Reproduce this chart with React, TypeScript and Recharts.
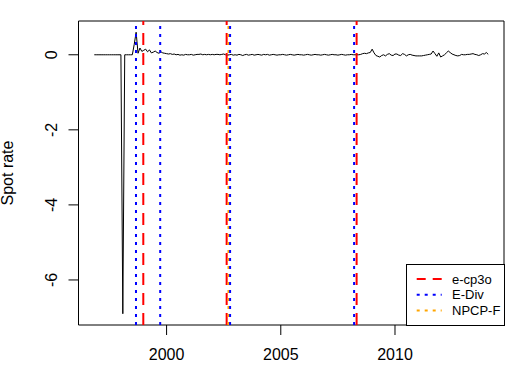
import React from 'react';
import { LineChart, Line, XAxis, YAxis, ReferenceLine, ReferenceArea, Legend, Label } from 'recharts';

// Monthly spot-rate series, Nov 1996 .. Feb 2014
const startYear = 1996;
const startMonth = 11;
const rates1996 = [0, 0];
const rates1997 = [0, 0, 0, 0, 0, 0, 0, 0, 0, 0, 0, 0];
const rates1998 = [0, -6.9, 0, 0, 0, 0, 0, 0.28, 0.6, 0.04, 0.18, 0.09];
const rates1999 = [0.12, 0.15, 0.08, 0.13, 0.05, 0.07, 0.1, 0.06, 0.04, 0.08, 0.05, 0.04];
const rates2000 = [0.03, 0.02, 0.03, 0.01, 0.02, 0.0, 0.01, -0.01, 0.0, -0.01, 0.01, 0.0];
const rates2001 = [0.0, 0.01, -0.01, 0.0, 0.01, 0.01, 0.02, 0.0, 0.01, 0.0, 0.01, 0.0];
const rates2002 = [0.01, 0.0, 0.01, 0.01, 0.0, 0.01, 0.02, 0.0, -0.01, 0.0, 0.01, -0.01];
const rates2003 = [0.0, -0.01, 0.01, 0.0, -0.02, 0.0, 0.01, -0.01, 0.0, 0.01, -0.01, 0.0];
const rates2004 = [0.01, 0.0, -0.01, 0.01, 0.0, 0.01, -0.01, 0.0, 0.01, 0.0, -0.01, 0.0];
const rates2005 = [0.0, 0.01, 0.0, -0.01, 0.0, 0.01, 0.0, -0.01, 0.0, 0.01, 0.0, 0.0];
const rates2006 = [-0.01, 0.0, 0.01, 0.0, -0.01, 0.0, 0.01, 0.0, 0.0, -0.01, 0.0, 0.01];
const rates2007 = [0.0, -0.01, 0.0, 0.01, 0.0, 0.0, -0.01, 0.0, 0.01, 0.0, -0.01, 0.0];
const rates2008 = [0.0, 0.01, 0.0, 0.0, 0.0, 0.0, 0.01, 0.03, 0.04, 0.03, 0.05, 0.06];
const rates2009 = [0.15, 0.05, -0.02, -0.04, -0.06, -0.02, 0.0, -0.03, 0.01, 0.03, -0.01, -0.02];
const rates2010 = [0.02, 0.02, -0.01, -0.02, 0.03, 0.01, -0.03, 0.0, 0.01, -0.01, -0.02, -0.03];
const rates2011 = [-0.03, -0.03, -0.03, -0.02, -0.01, 0.0, 0.01, 0.02, 0.1, 0.03, -0.04, 0.05];
const rates2012 = [-0.06, -0.03, 0.0, 0.05, 0.1, 0.06, 0.02, 0.0, -0.02, -0.03, -0.02, 0.01];
const rates2013 = [0.0, 0.0, 0.01, 0.01, 0.02, 0.03, 0.01, 0.0, -0.02, 0.0, 0.03, 0.02];
const rates2014 = [0.06, 0.01];

// Change point estimates (decimal years)
const ecp3oDates = [1998.98, 2002.63, 2008.32];
const eDivDates = [1998.66, 1999.72, 2002.78, 2008.21];
const npcpfDates = [2002.71];

// Axis ticks & domains
const xTicks = [2000, 2005, 2010];
const yTicks = [-6, -4, -2, 0];
const xDomain: [number, number] = [1996.143, 2014.773];
const yDomain: [number, number] = [-7.2, 0.9];

// Legend
const legendNames = ['e-cp3o', 'E-Div', 'NPCP-F'];
const legendColors = ['#ff0000', '#0000ff', '#ffa500'];
const legendDashes = ['9 7', '3 5', '3 5'];

const allRates = [
  ...rates1996, ...rates1997, ...rates1998, ...rates1999, ...rates2000, ...rates2001,
  ...rates2002, ...rates2003, ...rates2004, ...rates2005, ...rates2006, ...rates2007,
  ...rates2008, ...rates2009, ...rates2010, ...rates2011, ...rates2012, ...rates2013, ...rates2014,
];
const data = allRates.map((v, i) => ({ t: startYear + (startMonth - 1 + i) / 12, rate: v }));

const FONT = '"Liberation Sans", Arial, Helvetica, sans-serif';
const fmt = (v: number) => String(v);

const XTick = (props: any) => {
  const { x, y, payload } = props;
  return (
    <text x={x} y={y + 23} textAnchor="middle" fontSize={16} fontFamily={FONT} fill="#000">
      {fmt(payload.value)}
    </text>
  );
};

const YTick = (props: any) => {
  const { x, y, payload } = props;
  const bx = x - 9.5;
  return (
    <text x={bx} y={y} transform={`rotate(-90, ${bx}, ${y})`} textAnchor="middle" fontSize={16} fontFamily={FONT} fill="#000">
      {fmt(payload.value)}
    </text>
  );
};

const YLabel = (props: any) => {
  const vb = props.viewBox || { x: 0, y: 21, width: 78.5, height: 304 };
  const bx = vb.x + 13;
  const cy = vb.y + vb.height / 2;
  return (
    <text x={bx} y={cy} transform={`rotate(-90, ${bx}, ${cy})`} textAnchor="middle" fontSize={16} fontFamily={FONT} fill="#000">
      Spot rate
    </text>
  );
};

const LegendBox = () => (
  <svg width={100} height={62} style={{ display: 'block' }}>
    <rect x={0.5} y={0.5} width={98} height={61} fill="#fff" stroke="#000" strokeWidth={1} />
    {legendNames.map((n, i) => {
      const yy = 15 + i * 15.7;
      return (
        <g key={n}>
          <line x1={10.7} x2={35.7} y1={yy} y2={yy} stroke={legendColors[i]} strokeWidth={2} strokeDasharray={legendDashes[i]} />
          <text x={46} y={yy} dominantBaseline="central" fontSize={13} fontFamily={FONT} fill="#000">
            {n}
          </text>
        </g>
      );
    })}
  </svg>
);

export default function App() {
  return (
    <div style={{ position: 'absolute', left: 0, top: 0, background: '#fff' }}>
      <LineChart width={526} height={385} data={data} margin={{ top: 21, right: 22, bottom: 0, left: 0 }}>
        <XAxis
          dataKey="t"
          type="number"
          domain={xDomain}
          allowDataOverflow
          ticks={xTicks}
          axisLine={false}
          tickLine={{ stroke: '#000' }}
          tickSize={10}
          height={60}
          tick={<XTick />}
          interval={0}
        />
        <YAxis
          type="number"
          domain={yDomain}
          allowDataOverflow
          ticks={yTicks}
          axisLine={false}
          tickLine={{ stroke: '#000' }}
          tickSize={10}
          width={78.5}
          tick={<YTick />}
          interval={0}
        >
          <Label content={<YLabel />} />
        </YAxis>
        <Line dataKey="rate" type="linear" stroke="#000" strokeWidth={1} dot={false} isAnimationActive={false} />
        {ecp3oDates.map((d) => (
          <ReferenceLine key={'r' + d} x={d} stroke="#ff0000" strokeWidth={2} strokeDasharray="12 8" />
        ))}
        {npcpfDates.map((d) => (
          <ReferenceLine key={'o' + d} x={d} stroke="#ffa500" strokeWidth={2} strokeDasharray="3 5" />
        ))}
        {eDivDates.map((d) => (
          <ReferenceLine key={'b' + d} x={d} stroke="#0000ff" strokeWidth={2} strokeDasharray="3 5" />
        ))}
        <ReferenceArea x1={xDomain[0]} x2={xDomain[1]} y1={yDomain[0]} y2={yDomain[1]} fill="none" stroke="#000" strokeWidth={1} />
        <Legend
          layout="vertical"
          align="center"
          verticalAlign="middle"
          content={<LegendBox />}
          wrapperStyle={{ left: 406, top: 264, width: 100, height: 62, right: 'auto', bottom: 'auto', margin: 0, padding: 0 }}
        />
      </LineChart>
    </div>
  );
}
